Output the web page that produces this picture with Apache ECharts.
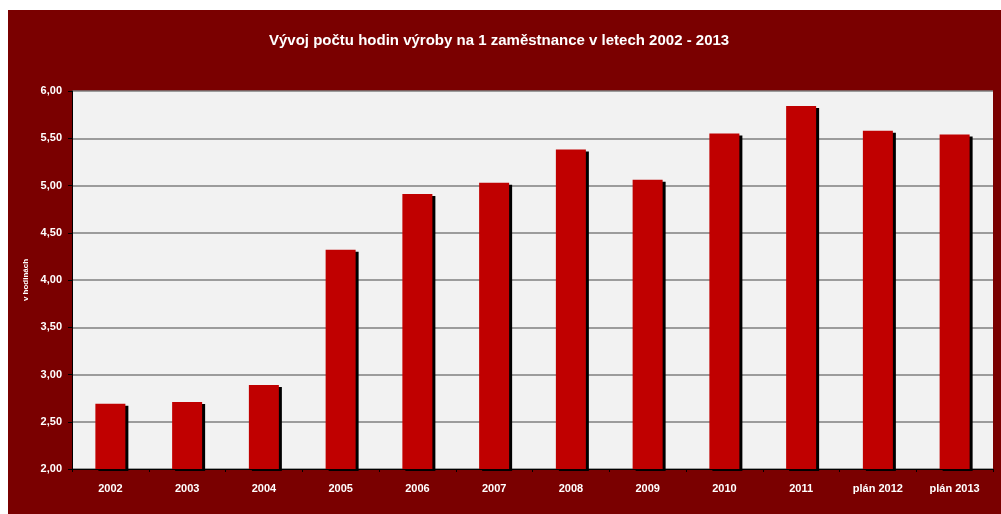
<!DOCTYPE html>
<html>
<head>
<meta charset="utf-8">
<script src="https://cdn.jsdelivr.net/npm/echarts@6/dist/echarts.min.js"></script>
<style>
  html, body { margin: 0; padding: 0; background: #ffffff; }
  #chart { position: absolute; left: 8px; top: 10px; width: 993px; height: 504px; }
</style>
</head>
<body>
<div id="chart"></div>
<script>
// data
const years = ['2002', '2003', '2004', '2005', '2006', '2007', '2008', '2009', '2010', '2011', 'plán 2012', 'plán 2013'];
const hoursPerEmployee = [2.69, 2.71, 2.89, 4.32, 4.91, 5.03, 5.38, 5.06, 5.55, 5.84, 5.58, 5.54];

const chartDom = document.getElementById('chart');
const myChart = echarts.init(chartDom);

const option = {
  backgroundColor: '#7a0000',
  animation: false,
  title: {
    text: 'Vývoj počtu hodin výroby na 1 zaměstnance v letech 2002 - 2013',
    left: 256,
    top: 18,
    textStyle: {
      color: '#ffffff',
      fontFamily: 'Liberation Sans',
      fontWeight: 'bold',
      fontSize: 15
    }
  },
  grid: {
    left: 64,
    right: 8,
    top: 81,
    bottom: 45,
    show: true,
    backgroundColor: '#f2f2f2',
    borderWidth: 0
  },
  xAxis: {
    type: 'category',
    data: years,
    axisLine: { lineStyle: { color: '#000000', width: 1 } },
    axisTick: { show: true, length: 3, lineStyle: { color: '#000000' } },
    axisLabel: {
      color: '#ffffff',
      fontFamily: 'Liberation Sans',
      fontWeight: 'bold',
      fontSize: 11,
      margin: 14
    }
  },
  yAxis: {
    type: 'value',
    min: 2,
    max: 6,
    interval: 0.5,
    name: 'v hodinách',
    nameLocation: 'middle',
    nameRotate: 90,
    nameGap: 37,
    nameTextStyle: {
      color: '#ffffff',
      fontFamily: 'Liberation Sans',
      fontWeight: 'bold',
      fontSize: 8
    },
    axisLine: { show: true, lineStyle: { color: '#000000', width: 1 } },
    axisTick: { show: true, length: 4, lineStyle: { color: '#000000' } },
    splitLine: { lineStyle: { color: '#7f7f7f', width: 1.5 } },
    axisLabel: {
      color: '#ffffff',
      fontFamily: 'Liberation Sans',
      fontWeight: 'bold',
      fontSize: 11,
      margin: 10,
      formatter: v => v.toFixed(2).replace('.', ',')
    }
  },
  series: [
    {
      type: 'bar',
      data: hoursPerEmployee,
      barWidth: 30,
      itemStyle: {
        color: '#c00000',
        shadowColor: '#000000',
        shadowBlur: 0,
        shadowOffsetX: 3,
        shadowOffsetY: 2
      }
    }
  ]
};
myChart.setOption(option);
</script>
</body>
</html>
